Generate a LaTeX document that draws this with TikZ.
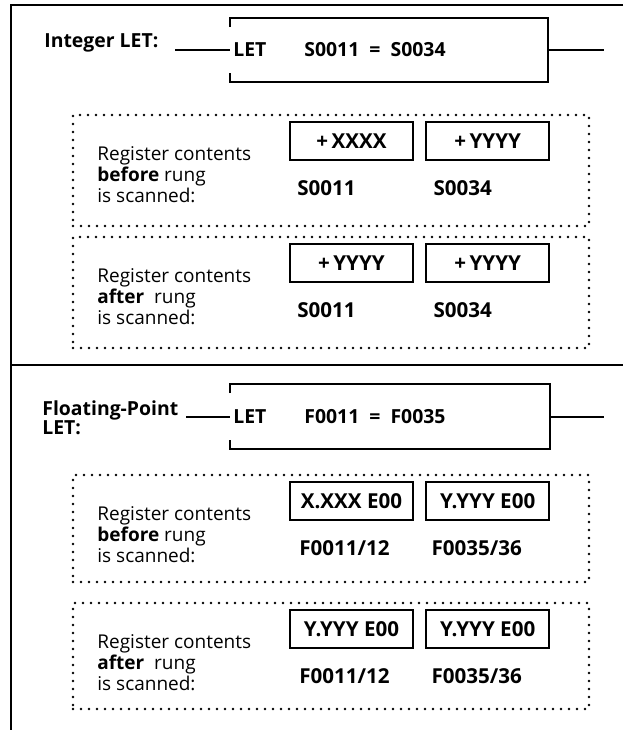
\documentclass[tikz,border=0pt]{standalone}
\usepackage{fontspec}
\setmainfont{Open Sans}
\usepackage{tikz}
\usetikzlibrary{positioning}

\begin{document}
\begin{tikzpicture}[
    x=0.5pt, y=-0.5pt,
    every node/.style={font=\fontsize{9.5}{9.4}\selectfont, inner sep=0pt},
    title/.style={align=left, font=\fontsize{9.7}{9.6}\selectfont\bfseries},
    rung/.style={rectangle, minimum height=32pt},
    reg/.style={rectangle, draw, line width=1.1pt, minimum width=61.5pt, minimum height=19pt, font=\fontsize{10.3}{10}\selectfont\bfseries},
    addr/.style={font=\fontsize{10.3}{10}\selectfont\bfseries},
    note/.style={anchor=north west, align=left},
    group/.style={rectangle, draw, line width=1.3pt, dash pattern=on 0pt off 4pt, line cap=round, minimum width=258pt},
    frame/.style={line width=1.4pt},
    wire/.style={line width=1pt}
]
\useasboundingbox (0,0) rectangle (623,730);

\draw[frame] (623,5) -- (11,5) -- (11,730);
\draw[frame] (11,365) -- (623,365);

\node[title, anchor=base west] (intlet) at (44,47) {Integer LET:};
\coordinate (in1) at (175,50);
\coordinate (out1) at (604,50);
\node[rung, minimum width=159pt] (rung1) at (389,50) {};
\node[title, anchor=west] (let1) at (233,50) {LET};
\node[title, anchor=west] (eq1) at (304,50) {S0011\ \ =\ \ S0034};
\draw[wire] (in1) -- (rung1.west);
\draw[wire] (rung1.east) -- (out1);
\draw[wire] ([yshift=-4.5pt]rung1.north west) -- (rung1.north west) -- (rung1.north east)
    -- (rung1.south east) -- (rung1.south west) -- ([yshift=4.5pt]rung1.south west);

\node[group, minimum height=55.5pt] (g1) at (331,170.5) {};
\node[note] (n1) at (97,146) {Register contents\\\textbf{before} rung\\is scanned:};
\node[reg] (r1a) at (351.5,141) {+\,XXXX};
\node[reg, right=5.5pt of r1a] (r1b) {+\,YYYY};
\node[addr, below right=9.5pt and 4pt of r1a.south west] (a1a) {S0011};
\node[addr, below right=9.5pt and 4pt of r1b.south west] (a1b) {S0034};

\node[group, minimum height=55.5pt] (g2) at (331,292.5) {};
\node[note] (n2) at (97,268) {Register contents\\\textbf{after}\ \ rung\\is scanned:};
\node[reg] (r2a) at (351.5,263) {+\,YYYY};
\node[reg, right=5.5pt of r2a] (r2b) {+\,YYYY};
\node[addr, below right=9.5pt and 4pt of r2a.south west] (a2a) {S0011};
\node[addr, below right=9.5pt and 4pt of r2b.south west] (a2b) {S0034};

\node[title, anchor=north west] (fltlet) at (42,400) {Floating-Point\\LET:};
\coordinate (in2) at (186,416.5);
\coordinate (out2) at (604,416.5);
\node[rung, minimum width=160pt] (rung2) at (390,416.5) {};
\node[title, anchor=west] (let2) at (233,416.5) {LET};
\node[title, anchor=west] (eq2) at (304,416.5) {F0011\ \ =\ \ F0035};
\draw[wire] (in2) -- (rung2.west);
\draw[wire] (rung2.east) -- (out2);
\draw[wire] ([yshift=-4.5pt]rung2.north west) -- (rung2.north west) -- (rung2.north east)
    -- (rung2.south east) -- (rung2.south west) -- ([yshift=4.5pt]rung2.south west);

\node[group, minimum height=53.5pt] (g3) at (331,528.5) {};
\node[note] (n3) at (97,506) {Register contents\\\textbf{before} rung\\is scanned:};
\node[reg] (r3a) at (351.5,501) {X.XXX E00};
\node[reg, right=5.5pt of r3a] (r3b) {Y.YYY E00};
\node[addr, below right=9.5pt and 5pt of r3a.south west] (a3a) {F0011/12};
\node[addr, below right=9.5pt and 3pt of r3b.south west] (a3b) {F0035/36};

\node[group, minimum height=53pt] (g4) at (331,656) {};
\node[note] (n4) at (97,634) {Register contents\\\textbf{after}\ \ rung\\is scanned:};
\node[reg] (r4a) at (351.5,629) {Y.YYY E00};
\node[reg, right=5.5pt of r4a] (r4b) {Y.YYY E00};
\node[addr, below right=9.5pt and 5pt of r4a.south west] (a4a) {F0011/12};
\node[addr, below right=9.5pt and 3pt of r4b.south west] (a4b) {F0035/36};

\end{tikzpicture}
\end{document}
